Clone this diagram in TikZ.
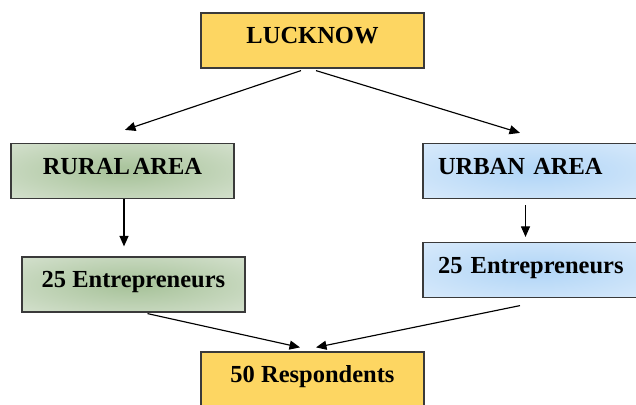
\documentclass[tikz,border=0pt]{standalone}
\usepackage{fontspec}
\setmainfont{Liberation Serif}
\usetikzlibrary{arrows.meta}

\definecolor{boxyellow}{HTML}{FDD662}
\definecolor{boxline}{HTML}{3A3A3A}
\definecolor{greencore}{HTML}{ABC59E}
\definecolor{greenrim}{HTML}{EBF0E8}
\definecolor{bluecore}{HTML}{B4D7F7}
\definecolor{bluerim}{HTML}{ECF4FD}

% soft glow from the middle of a box out to its rim
\pgfdeclareradialshading{greenglow}{\pgfpoint{0bp}{0bp}}{color(0bp)=(greencore); color(4bp)=(greencore); color(54bp)=(greenrim); color(90bp)=(greenrim)}
\pgfdeclareradialshading{blueglow}{\pgfpoint{0bp}{0bp}}{color(0bp)=(bluecore); color(4bp)=(bluecore); color(54bp)=(bluerim); color(90bp)=(bluerim)}

\tikzset{
  box/.style={draw=boxline, line width=1.2pt, minimum width=223pt, minimum height=55pt,
    inner sep=0pt, text=black, font=\bfseries\fontsize{24.5}{24.5}\selectfont,
    text height=16pt, text depth=10pt},
  goldbox/.style={box, fill=boxyellow},
  ruralbox/.style={box, shading=greenglow},
  urbanbox/.style={box, shading=blueglow, text width=193pt, align=left},
  link/.style={-{Triangle[length=10.5pt,width=9pt]}, line width=1.15pt, black},
}

\begin{document}
\begin{tikzpicture}[x=1pt, y=-1pt]
  \useasboundingbox (0,0) rectangle (636,404);
  \clip (0,0) rectangle (636,404);

  \node[goldbox]  (luck)   at (312.5, 40.5) {LUCKNOW};
  \node[ruralbox] (rural)  at (122.5, 171)  {RURAL\hspace{0.12em}AREA};
  \node[ruralbox] (ruralE) at (133.5, 284.5) {25 Entrepreneurs};
  \node[urbanbox] (urban)  at (534.5, 171)  {URBAN AREA};
  \node[urbanbox] (urbanE) at (534.5, 270)  {25 Entrepreneurs};
  \node[goldbox]  (resp)   at (312.5, 379.5) {50 Respondents};

  \draw[link] ([xshift=-11.5pt,yshift=-2pt]luck.south) -- ([xshift=2.5pt,yshift=13pt]rural.north);
  \draw[link] ([xshift=3.5pt,yshift=-2pt]luck.south) -- ([xshift=-14.5pt,yshift=10pt]urban.north);
  \draw[link] ([xshift=1.5pt]rural.south) -- ([xshift=-9.5pt,yshift=10pt]ruralE.north);
  \draw[link] ([xshift=-9pt,yshift=-6pt]urban.south) -- ([xshift=-9pt,yshift=5pt]urbanE.north);
  \draw[link] ([xshift=14pt,yshift=-1pt]ruralE.south) -- ([xshift=-12.5pt,yshift=4pt]resp.north);
  \draw[link] ([xshift=-14.5pt,yshift=-7.5pt]urbanE.south) -- ([xshift=3.5pt,yshift=4pt]resp.north);
\end{tikzpicture}
\end{document}
